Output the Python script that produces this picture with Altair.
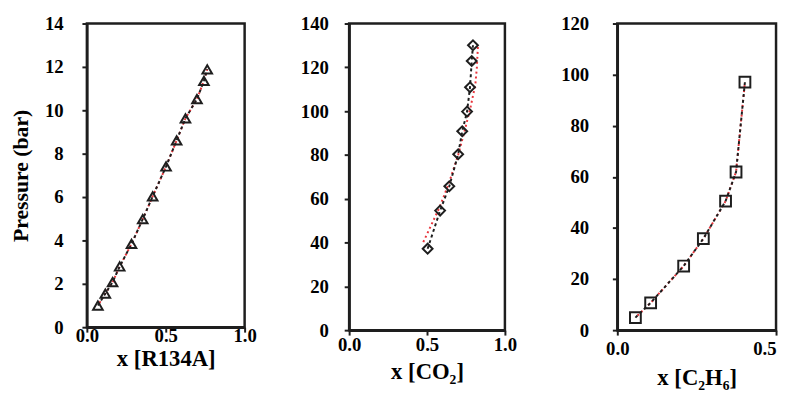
import altair as alt
import pandas as pd

# ---- data ----
r134a_x = [0.07, 0.117, 0.163, 0.208, 0.283, 0.354, 0.417, 0.502, 0.569, 0.625, 0.698, 0.742, 0.763]
r134a_p = [1.0, 1.55, 2.08, 2.8, 3.84, 4.98, 6.03, 7.41, 8.61, 9.63, 10.52, 11.36, 11.89]

co2_x = [0.504, 0.584, 0.643, 0.700, 0.726, 0.757, 0.776, 0.787, 0.795]
co2_p = [37.2, 54.6, 65.7, 80.3, 90.8, 99.8, 110.9, 122.9, 130.1]
co2_model_x = [0.468, 0.58, 0.64, 0.70, 0.745, 0.78, 0.81, 0.82, 0.827]
co2_model_p = [39, 56, 67, 80, 92, 102, 112, 120, 130]

c2h6_x = [0.057, 0.105, 0.209, 0.271, 0.341, 0.374, 0.402]
c2h6_p = [4.9, 10.7, 25.1, 35.8, 50.5, 61.9, 97.1]

FONT = "Liberation Serif"
INK = "#1e1e1e"


def panel(xs, ps, mx, mp, shape, msize, xdom, xticks, ydom, yticks, w, h,
          xtitle, ytitle, lab_pad, ttl_pad, ylab_pad, last_right=False):
    pts = pd.DataFrame({"x": xs, "p": ps})
    mdl = pd.DataFrame({"x": mx, "p": mp})
    xaxis_kw = dict(values=xticks, format=".1f", title=xtitle,
                    labelPadding=lab_pad, titlePadding=ttl_pad,
                    labelFlush=False, titleFontSize=23)
    if last_right:
        xaxis_kw["labelAlign"] = {"condition": {"test": f"datum.value >= {xdom[1]}",
                                                "value": "right"}, "value": "center"}
    xenc = alt.X("x:Q", scale=alt.Scale(domain=xdom, nice=False, zero=False, padding=0),
                 axis=alt.Axis(**xaxis_kw))
    if ytitle:
        yaxis = alt.Axis(values=yticks, format="d", title=ytitle,
                         titlePadding=12, labelPadding=ylab_pad, labelFlush=False)
    else:
        yaxis = alt.Axis(values=yticks, format="d", title=None,
                         labelPadding=ylab_pad, labelFlush=False)
    yenc = alt.Y("p:Q", scale=alt.Scale(domain=ydom, nice=False, padding=0), axis=yaxis)
    red = alt.Chart(mdl).mark_line(color="#e8333a", strokeWidth=2,
                                   strokeDash=[2, 3], strokeDashOffset=2).encode(
        x=xenc, y=yenc, order="p:Q")
    black = alt.Chart(pts).mark_line(color=INK, strokeWidth=2,
                                     strokeDash=[3, 3]).encode(x=xenc, y=yenc, order="p:Q")
    marks = alt.Chart(pts).mark_point(shape=shape, filled=False, color=INK,
                                      strokeWidth=2, size=msize, opacity=1).encode(x=xenc, y=yenc)
    return alt.layer(red, black, marks).properties(width=w, height=h)


p1 = panel(r134a_x, r134a_p, r134a_x, r134a_p, "triangle-up", 95, [0, 1], [0, 0.5, 1.0],
           [0, 14], list(range(0, 15, 2)), 160, 308, "x [R134A]", "Pressure (bar)", -5, 2, 19)
p2 = panel(co2_x, co2_p, co2_model_x, co2_model_p, "diamond", 100, [0, 1], [0, 0.5, 1.0],
           [0, 140], list(range(0, 141, 20)), 158, 311, "x [CO₂]", None, 1, 6, 16)
p3 = panel(c2h6_x, c2h6_p, c2h6_x, c2h6_p, "square", 120, [0, 0.5], [0, 0.5],
           [0, 120], list(range(0, 121, 20)), 161, 311, "x [C₂H₆]", None, 5, 8, 24,
           last_right=True)

chart = alt.hconcat(p1, p2, p3, spacing=41, background="white").properties(
    padding={"left": 0, "top": 2, "right": 0, "bottom": 0}
).configure_view(stroke=INK, strokeWidth=2.5).configure_axis(
    grid=False, domainColor=INK, domainWidth=2.5, tickColor=INK, tickWidth=2,
    tickSize=5, labelFont=FONT, labelFontSize=19, labelFontWeight="bold",
    labelColor="#000", titleFont=FONT, titleFontSize=22, titleFontWeight="bold",
    titleColor="#000"
)

chart.save("out.html", embed_options={"renderer": "svg", "actions": False})
